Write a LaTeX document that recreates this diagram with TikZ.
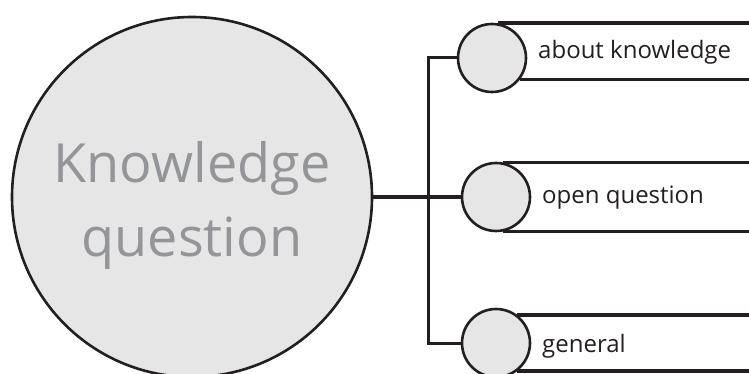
\documentclass[tikz,border=0pt]{standalone}
\usepackage{fontspec}
\setmainfont{Open Sans}
\definecolor{fillgray}{HTML}{E6E6E6}
\definecolor{textgray}{HTML}{939598}
\definecolor{ink}{HTML}{231F20}
\begin{document}
\begin{tikzpicture}[x=1pt,y=-1pt,
  bigc/.style={circle,draw=ink,line width=2.6pt,fill=fillgray,minimum size=360pt,inner sep=0pt},
  bigt/.style={text=textgray,font=\fontsize{54}{74}\selectfont,align=center,inner sep=0pt},
  smallc/.style={circle,draw=ink,line width=2.6pt,fill=fillgray,minimum size=68pt,inner sep=0pt},
  lbl/.style={anchor=west,text=ink,font=\fontsize{24}{28}\selectfont,inner sep=0pt},
  conn/.style={draw=ink,line width=3pt},
  tab/.style={draw=ink,line width=3.5pt}]
\useasboundingbox (0,0) rectangle (749,374);
\coordinate (R) at (749,0);
\coordinate (J) at (428,0);
\node[bigc] (kq) at (192,197) {};
\node[bigt] (kqt) at (192,205) {Knowledge\\question};
\node[smallc] (c1) at (492,58) {};
\node[smallc] (c2) at (496,197) {};
\node[smallc] (c3) at (496,343) {};
\draw[tab] (c1.80) -- (c1.80 -| R);
\draw[tab] (c1.-38) -- (c1.-38 -| R);
\draw[tab] (c2.78) -- (c2.78 -| R);
\draw[tab] (c2.-78) -- (c2.-78 -| R);
\draw[tab] (c3.53) -- (c3.53 -| R);
\draw[tab] (c3.-53) -- (c3.-53 -| R);
\draw[conn] (c1.west) -- (c1.west -| J) -- (c3.west -| J) -- (c3.west);
\draw[conn] (kq.east) -- (c2.west);
\node[lbl] (t1) at (538,52) {about knowledge};
\node[lbl] (t2) at (542,198) {open question};
\node[lbl] (t3) at (542,346) {general};
\end{tikzpicture}
\end{document}
